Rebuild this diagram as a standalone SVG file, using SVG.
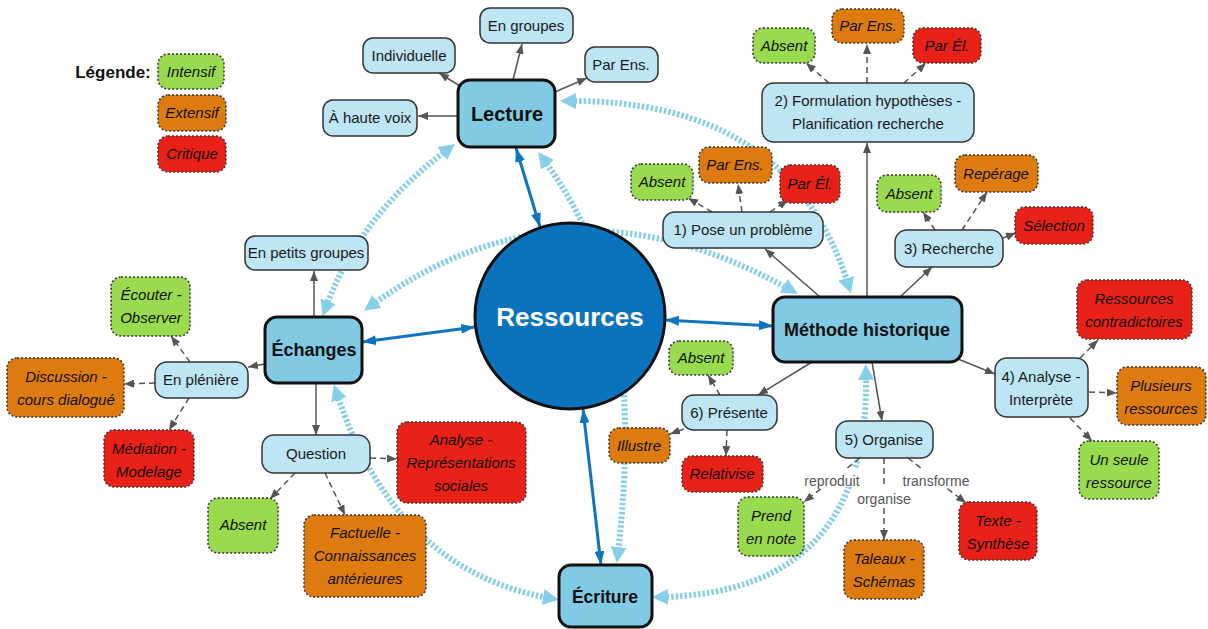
<svg xmlns="http://www.w3.org/2000/svg" width="1208" height="629" viewBox="0 0 1208 629">
<style>
text{font-family:"Liberation Sans",Arial,sans-serif;text-anchor:middle}
.t{font-size:15px;fill:#1a1a1a}
.i{font-size:15px;font-style:italic;fill:#111}
.b{font-weight:bold;fill:#111}
.n rect{fill:#BEE5F3;stroke:#333;stroke-width:1.5}
.m rect{fill:#80CBE3;stroke:#111;stroke-width:3}
.g rect,.o rect,.r rect{stroke:#333;stroke-width:1.5;stroke-dasharray:2 2}
.g rect{fill:#9ADA4E}
.o rect{fill:#DD7A10}
.r rect{fill:#E82219}
.s{fill:none;stroke:#555;stroke-width:1.5;marker-end:url(#ag)}
.d{fill:none;stroke:#555;stroke-width:1.5;stroke-dasharray:6 4;marker-end:url(#ag)}
.bl{fill:none;stroke:#0F74BF;stroke-width:3;marker-start:url(#ab);marker-end:url(#ab)}
.lb{fill:none;stroke:#87CEEB;stroke-width:6;stroke-dasharray:2.5 2;marker-start:url(#al);marker-end:url(#al)}
.lab{font-size:14px;fill:#555}
</style>
<defs>
<marker id="ag" viewBox="0 0 10 8" refX="10" refY="4" markerWidth="10" markerHeight="8" markerUnits="userSpaceOnUse" orient="auto"><path d="M0,0 L10,4 L0,8 z" fill="#555"/></marker>
<marker id="ab" viewBox="0 0 14 10" refX="14" refY="5" markerWidth="14" markerHeight="10" markerUnits="userSpaceOnUse" orient="auto-start-reverse"><path d="M0,0 L14,5 L0,10 z" fill="#0F74BF"/></marker>
<marker id="al" viewBox="0 0 16 16" refX="6" refY="8" markerWidth="16" markerHeight="16" markerUnits="userSpaceOnUse" orient="auto-start-reverse"><path d="M0,0 L16,8 L0,16 z" fill="#87CEEB"/></marker>
</defs>
<rect width="1208" height="629" fill="#fff"/>

<g id="connectors">
<path class="lb" d="M570,101 Q790,100 848,284"/>
<path class="lb" d="M544,160 C610,250 640,360 618,553"/>
<path class="lb" d="M447,150 Q360,215 326,307"/>
<path class="lb" d="M372,305 Q565,165 789,289"/>
<path class="lb" d="M337,394 Q395,570 549,598"/>
<path class="lb" d="M662,597 Q870,592 866,374"/>

<path class="bl" d="M540,227 L516,148"/>
<path class="bl" d="M475,327 L362,342"/>
<path class="bl" d="M665,320 L773,326"/>
<path class="bl" d="M583,409 L601,565"/>

<path class="s" d="M460,86 L439,73"/>
<path class="s" d="M513,80 L522,44"/>
<path class="s" d="M555,92 L587,78"/>
<path class="s" d="M458,116 L418,116"/>
<path class="s" d="M867,297 L867,143"/>
<path class="s" d="M820,297 L765,249"/>
<path class="s" d="M900,297 L932,267"/>
<path class="s" d="M958,359 L995,374"/>
<path class="s" d="M872,362 L882,421"/>
<path class="s" d="M812,362 L758,395"/>
<path class="s" d="M314,317 L314,271"/>
<path class="s" d="M265,364 L248,367"/>
<path class="s" d="M316,383 L316,435"/>

<path class="d" d="M829,83 L806,63"/>
<path class="d" d="M867,83 L867,44"/>
<path class="d" d="M904,83 L926,63"/>
<path class="d" d="M712,212 L688,198"/>
<path class="d" d="M742,212 L738,184"/>
<path class="d" d="M770,212 L788,200"/>
<path class="d" d="M935,230 L923,212"/>
<path class="d" d="M962,230 L987,192"/>
<path class="d" d="M1003,238 L1016,233"/>
<path class="d" d="M1080,358 L1098,340"/>
<path class="d" d="M1089,392 L1117,393"/>
<path class="d" d="M1070,418 L1092,441"/>
<path class="d" d="M860,458 L804,502"/>
<path class="d" d="M884,458 L884,540"/>
<path class="d" d="M908,458 L966,503"/>
<path class="d" d="M720,395 L708,375"/>
<path class="d" d="M684,429 L670,434"/>
<path class="d" d="M727,430 L726,456"/>
<path class="d" d="M190,362 L171,336"/>
<path class="d" d="M155,383 L124,384"/>
<path class="d" d="M189,398 L169,430"/>
<path class="d" d="M370,458 L397,459"/>
<path class="d" d="M325,473 L345,515"/>
<path class="d" d="M295,473 L270,499"/>

<rect x="803" y="469" width="58" height="18" fill="#fff"/>
<text class="lab" x="832" y="486">reproduit</text>
<rect x="857" y="487" width="54" height="18" fill="#fff"/>
<text class="lab" x="884" y="504">organise</text>
<rect x="902" y="469" width="68" height="18" fill="#fff"/>
<text class="lab" x="936" y="486">transforme</text>
</g>

<g id="legend">
<text class="b" x="113" y="78" style="font-size:17px">Légende:</text>
<g class="g"><rect x="158" y="54" width="66" height="35" rx="10"/><text class="i" x="191" y="77">Intensif</text></g>
<g class="o"><rect x="158" y="95" width="68" height="36" rx="10"/><text class="i" x="192" y="118">Extensif</text></g>
<g class="r"><rect x="158" y="136" width="68" height="36" rx="10"/><text class="i" x="192" y="159">Critique</text></g>
</g>

<g id="ressources"><ellipse cx="570" cy="316" rx="95" ry="93" fill="#0B73BE" stroke="#111" stroke-width="3"/><text class="b" x="570" y="326" style="font-size:26px;fill:#fff">Ressources</text></g>

<g id="lecture" class="m"><rect x="458" y="80" width="97" height="67" rx="12"/><text class="b" x="507" y="121" style="font-size:20px">Lecture</text></g>
<g id="methode" class="m"><rect x="773" y="297" width="189" height="65" rx="12"/><text class="b" x="867" y="336" style="font-size:18px">Méthode historique</text></g>
<g id="echanges" class="m"><rect x="265" y="317" width="97" height="66" rx="12"/><text class="b" x="314" y="356" style="font-size:18px">Échanges</text></g>
<g id="ecriture" class="m"><rect x="559" y="565" width="93" height="62" rx="12"/><text class="b" x="605" y="603" style="font-size:17.5px">Écriture</text></g>

<g id="individuelle" class="n"><rect x="363" y="38" width="92" height="35" rx="10"/><text class="t" x="409" y="61">Individuelle</text></g>
<g id="engroupes" class="n"><rect x="480" y="8" width="93" height="35" rx="10"/><text class="t" x="526" y="31">En groupes</text></g>
<g id="parens-l" class="n"><rect x="585" y="47" width="73" height="35" rx="10"/><text class="t" x="621" y="70">Par Ens.</text></g>
<g id="hautevoix" class="n"><rect x="323" y="100" width="94" height="36" rx="10"/><text class="t" x="370" y="123">À haute voix</text></g>

<g id="formulation" class="n"><rect x="762" y="83" width="212" height="59" rx="12"/><text class="t" x="868" y="106">2) Formulation hypothèses -</text><text class="t" x="868" y="129">Planification recherche</text></g>
<g id="f-absent" class="g"><rect x="753" y="28" width="62" height="35" rx="10"/><text class="i" x="784" y="51">Absent</text></g>
<g id="f-parens" class="o"><rect x="832" y="9" width="72" height="34" rx="10"/><text class="i" x="868" y="31">Par Ens.</text></g>
<g id="f-parel" class="r"><rect x="913" y="28" width="68" height="35" rx="10"/><text class="i" x="947" y="51">Par Él.</text></g>

<g id="pose" class="n"><rect x="663" y="212" width="160" height="36" rx="12"/><text class="t" x="743" y="235">1) Pose un problème</text></g>
<g id="p-absent" class="g"><rect x="631" y="164" width="62" height="36" rx="10"/><text class="i" x="662" y="187">Absent</text></g>
<g id="p-parens" class="o"><rect x="699" y="147" width="73" height="36" rx="10"/><text class="i" x="735" y="170">Par Ens.</text></g>
<g id="p-parel" class="r"><rect x="780" y="165" width="60" height="38" rx="10"/><text class="i" x="810" y="189">Par Él.</text></g>

<g id="recherche" class="n"><rect x="895" y="230" width="108" height="37" rx="12"/><text class="t" x="949" y="254">3) Recherche</text></g>
<g id="r-absent" class="g"><rect x="877" y="175" width="64" height="37" rx="10"/><text class="i" x="909" y="199">Absent</text></g>
<g id="r-reperage" class="o"><rect x="955" y="155" width="83" height="37" rx="10"/><text class="i" x="996" y="179">Repérage</text></g>
<g id="r-selection" class="r"><rect x="1015" y="207" width="78" height="37" rx="10"/><text class="i" x="1054" y="231">Sélection</text></g>

<g id="analyse" class="n"><rect x="995" y="358" width="93" height="59" rx="12"/><text class="t" x="1041" y="382">4) Analyse -</text><text class="t" x="1041" y="405">Interprète</text></g>
<g id="a-contra" class="r"><rect x="1077" y="280" width="115" height="59" rx="10"/><text class="i" x="1134" y="304">Ressources</text><text class="i" x="1134" y="327">contradictoires</text></g>
<g id="a-plusieurs" class="o"><rect x="1117" y="367" width="89" height="58" rx="10"/><text class="i" x="1161" y="391">Plusieurs</text><text class="i" x="1161" y="414">ressources</text></g>
<g id="a-seule" class="g"><rect x="1079" y="441" width="80" height="58" rx="10"/><text class="i" x="1119" y="465">Un seule</text><text class="i" x="1119" y="488">ressource</text></g>

<g id="organise" class="n"><rect x="836" y="421" width="97" height="37" rx="12"/><text class="t" x="884" y="445">5) Organise</text></g>
<g id="o-prend" class="g"><rect x="738" y="497" width="66" height="59" rx="10"/><text class="i" x="771" y="521">Prend</text><text class="i" x="771" y="544">en note</text></g>
<g id="o-taleaux" class="o"><rect x="844" y="540" width="80" height="59" rx="10"/><text class="i" x="884" y="564">Taleaux -</text><text class="i" x="884" y="587">Schémas</text></g>
<g id="o-texte" class="r"><rect x="959" y="502" width="78" height="58" rx="10"/><text class="i" x="998" y="526">Texte -</text><text class="i" x="998" y="549">Synthèse</text></g>

<g id="presente" class="n"><rect x="682" y="395" width="95" height="35" rx="12"/><text class="t" x="729" y="418">6) Présente</text></g>
<g id="pr-absent" class="g"><rect x="669" y="341" width="64" height="34" rx="10"/><text class="i" x="701" y="363">Absent</text></g>
<g id="pr-illustre" class="o"><rect x="609" y="428" width="61" height="35" rx="10"/><text class="i" x="639" y="451">Illustre</text></g>
<g id="pr-relativise" class="r"><rect x="682" y="456" width="81" height="36" rx="10"/><text class="i" x="722" y="479">Relativise</text></g>

<g id="petitsgroupes" class="n"><rect x="245" y="236" width="123" height="34" rx="10"/><text class="t" x="306" y="258">En petits groupes</text></g>
<g id="pleniere" class="n"><rect x="155" y="362" width="93" height="36" rx="12"/><text class="t" x="201" y="385">En plénière</text></g>
<g id="pl-ecouter" class="g"><rect x="111" y="277" width="79" height="59" rx="10"/><text class="i" x="151" y="300">Écouter -</text><text class="i" x="151" y="323">Observer</text></g>
<g id="pl-discussion" class="o"><rect x="7" y="358" width="117" height="59" rx="10"/><text class="i" x="66" y="382">Discussion -</text><text class="i" x="66" y="405">cours dialogué</text></g>
<g id="pl-mediation" class="r"><rect x="104" y="430" width="90" height="57" rx="10"/><text class="i" x="149" y="454">Médiation -</text><text class="i" x="149" y="477">Modelage</text></g>

<g id="question" class="n"><rect x="262" y="435" width="108" height="38" rx="12"/><text class="t" x="316" y="459">Question</text></g>
<g id="q-analyse" class="r"><rect x="397" y="422" width="129" height="81" rx="10"/><text class="i" x="461" y="445">Analyse -</text><text class="i" x="461" y="468">Représentations</text><text class="i" x="461" y="491">sociales</text></g>
<g id="q-factuelle" class="o"><rect x="304" y="515" width="122" height="82" rx="10"/><text class="i" x="365" y="538">Factuelle -</text><text class="i" x="365" y="561">Connaissances</text><text class="i" x="365" y="584">antérieures</text></g>
<g id="q-absent" class="g"><rect x="208" y="498" width="70" height="55" rx="10"/><text class="i" x="243" y="530">Absent</text></g>
</svg>
